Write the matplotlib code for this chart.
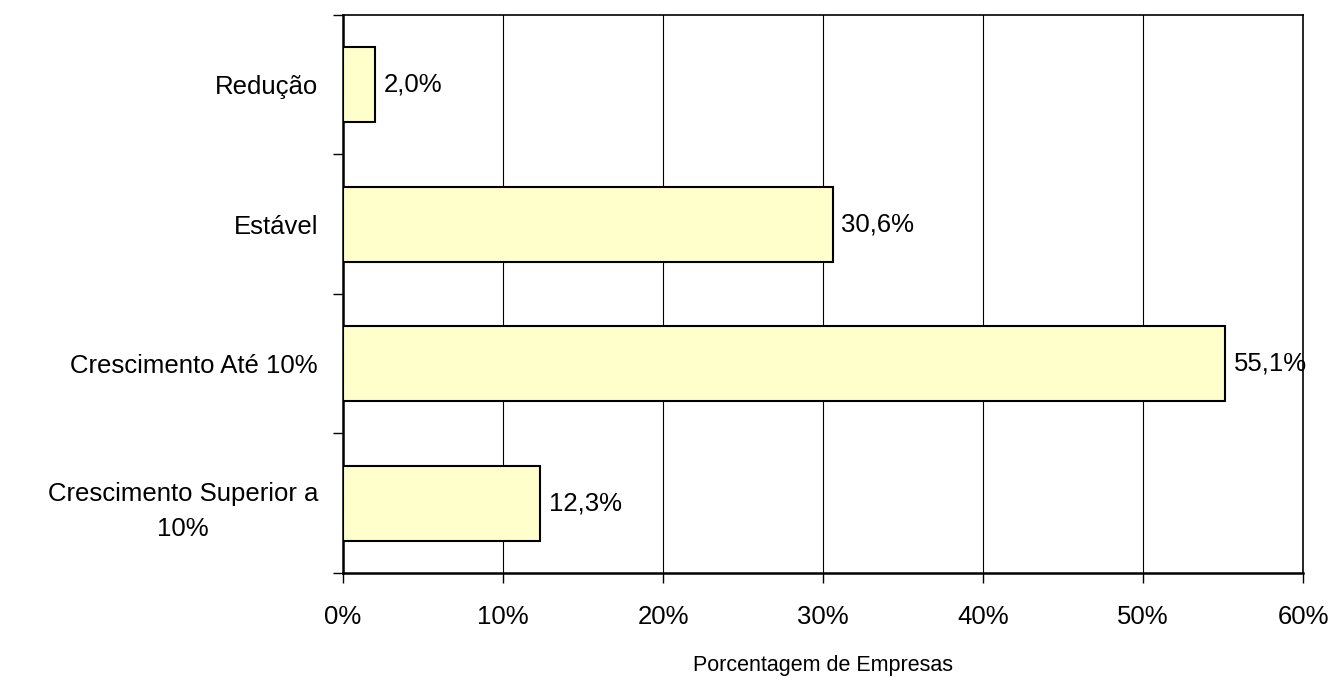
import matplotlib
matplotlib.use('Agg')
import matplotlib.pyplot as plt
import numpy as np

categorias = ['Redução', 'Estável', 'Crescimento Até 10%', 'Crescimento Superior a\n10%']
valores = [2.0, 30.6, 55.1, 12.3]
rotulos = ['2,0%', '30,6%', '55,1%', '12,3%']
ticks_x = [0, 10, 20, 30, 40, 50, 60]

plt.rcParams['font.family'] = ['Liberation Sans', 'DejaVu Sans']

fig = plt.figure(figsize=(13.37, 6.81), dpi=100)
ax = fig.add_axes([0.2566, 0.1586, 0.718, 0.8194])

y = np.arange(len(categorias))
ax.barh(y, valores, height=0.54, color='#FFFFCC', edgecolor='black', linewidth=1.5, zorder=3)

for yi, v, r in zip(y, valores, rotulos):
    ax.text(v + 0.55, yi, r, va='center', ha='left', fontsize=18.5, zorder=4)

ax.set_xlim(0, 60)
ax.set_ylim(3.5, -0.5)
ax.set_xticks(ticks_x)
ax.set_xticklabels([f'{t}%' for t in ticks_x], fontsize=18.5)
ax.set_yticks(y)
ax.set_yticklabels(categorias, fontsize=18.5, ha='right', multialignment='center',
                   linespacing=1.6)
ax.tick_params(axis='y', length=0, pad=18)
ax.set_yticks(np.arange(-0.5, 4.0, 1.0), minor=True)
ax.tick_params(axis='y', which='minor', length=7, direction='out', width=1)
ax.tick_params(axis='x', length=7, direction='out', pad=16, width=1)

ax.grid(axis='x', color='black', linewidth=0.8, zorder=0)
for s in ['left', 'bottom']:
    ax.spines[s].set_linewidth(1.8)
for s in ['top', 'right']:
    ax.spines[s].set_linewidth(1.2)

ax.set_xlabel('Porcentagem de Empresas', fontsize=15.5, labelpad=19)

fig.savefig('out.png', dpi=100)
plt.close(fig)
